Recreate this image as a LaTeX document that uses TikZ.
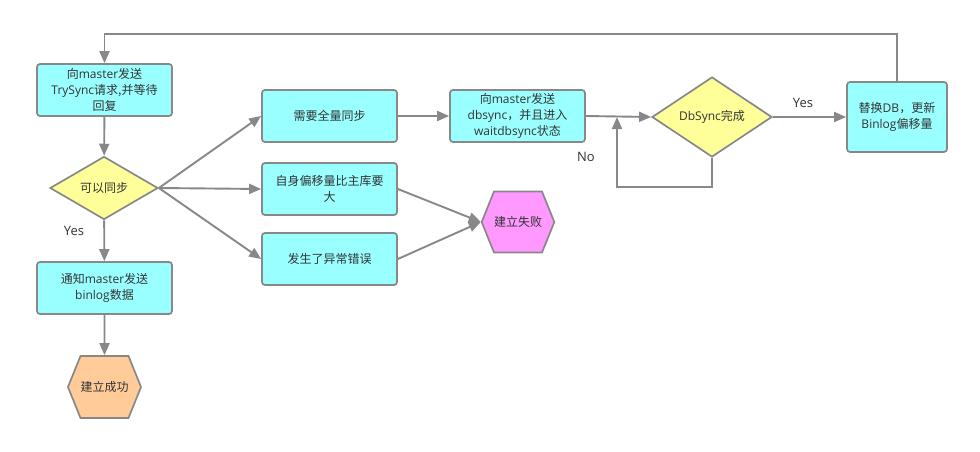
\documentclass[tikz,border=0pt]{standalone}
\usepackage{fontspec}
\setmainfont{Open Sans}
\newfontfamily\cjk{Noto Sans CJK SC}
\newcommand\zh[1]{{\cjk #1}}
\usetikzlibrary{shapes.geometric,shapes.symbols,arrows.meta}
\definecolor{boxfill}{HTML}{99FFFF}
\definecolor{dfill}{HTML}{FFFF99}
\definecolor{okfill}{HTML}{FFCC99}
\definecolor{failfill}{HTML}{FF99FF}
\definecolor{lc}{HTML}{888888}
\definecolor{tc}{HTML}{333333}
\begin{document}
\begin{tikzpicture}[x=1pt,y=-1pt,
  every node/.style={font=\fontsize{12}{16}\selectfont, text=tc},
  box/.style={draw=lc, line width=1.7pt, fill=boxfill, rounded corners=3pt, align=center, inner sep=0pt, minimum width=135pt, minimum height=52pt},
  dec/.style={draw=lc, line width=1.7pt, fill=dfill, diamond, inner sep=0pt},
  hexa/.style={draw=lc, line width=1.7pt, signal, signal to=east and west, signal pointer angle=136, inner sep=0pt, minimum width=73pt, minimum height=62pt},
  arr/.style={draw=lc, line width=1.9pt, -{Triangle[length=12pt,width=10pt]}},
  lbl/.style={font=\fontsize{13}{16}\selectfont, text=tc}
]
\useasboundingbox (0,0) rectangle (980,452);

\node[box] (b1) at (104.5,90) {\zh{向}master\zh{发送}\\TrySync\zh{请求,并等待}\\\zh{回复}};
\node[dec, minimum width=108pt, minimum height=63pt] (d1) at (104,188) {\zh{可以同步}};
\node[box] (b4) at (104.5,288) {\zh{通知}master\zh{发送}\\binlog\zh{数据}};
\node[hexa, fill=okfill] (h1) at (104.5,387) {\zh{建立成功}};

\node[box] (b2) at (329.5,116) {\zh{需要全量同步}};
\node[box] (bm) at (329.5,189) {\zh{自身偏移量比主库要}\\\zh{大}};
\node[box] (bb) at (329.5,259) {\zh{发生了异常错误}};
\node[box] (b3) at (517.5,116) {\zh{向}master\zh{发送}\\dbsync\zh{，并且进入}\\waitdbsync\zh{状态}};
\node[hexa, fill=failfill, minimum width=72pt, minimum height=61pt] (hf) at (518,222) {\zh{建立失败}};

\node[dec, minimum width=120pt, minimum height=80pt] (d2) at (712,117) {DbSync\zh{完成}};
\node[box, minimum width=100pt, minimum height=70pt] (b6) at (897,117) {\zh{替换}DB\zh{，更新}\\Binlog\zh{偏移量}};

\coordinate (top) at (0,34);
\coordinate (lp) at (617,187);

\draw[arr] (b1) -- (d1);
\draw[arr] (d1) -- (b4);
\draw[arr] (b4) -- (h1);
\draw[arr] (d1.east) -- (b2.west);
\draw[arr] (d1.east) -- (bm.west);
\draw[arr] (d1.east) -- (bb.west);
\draw[arr] (bm.east) -- (hf.west);
\draw[arr] (bb.east) -- (hf.west);
\draw[arr] (b2) -- (b3);
\draw[arr] (b3.east) -- (d2.west);
\draw[arr] (d2) -- (b6);
\draw[arr] (d2.south) |- (lp) -- (lp |- d2.west);
\draw[arr] (b6.north) |- (top -| b1.north) -- (b1.north);

\node[lbl] (yes1) at (74,231) {Yes};
\node[lbl] (yes2) at (803,103) {Yes};
\node[lbl] (no) at (586,157) {No};
\end{tikzpicture}
\end{document}
